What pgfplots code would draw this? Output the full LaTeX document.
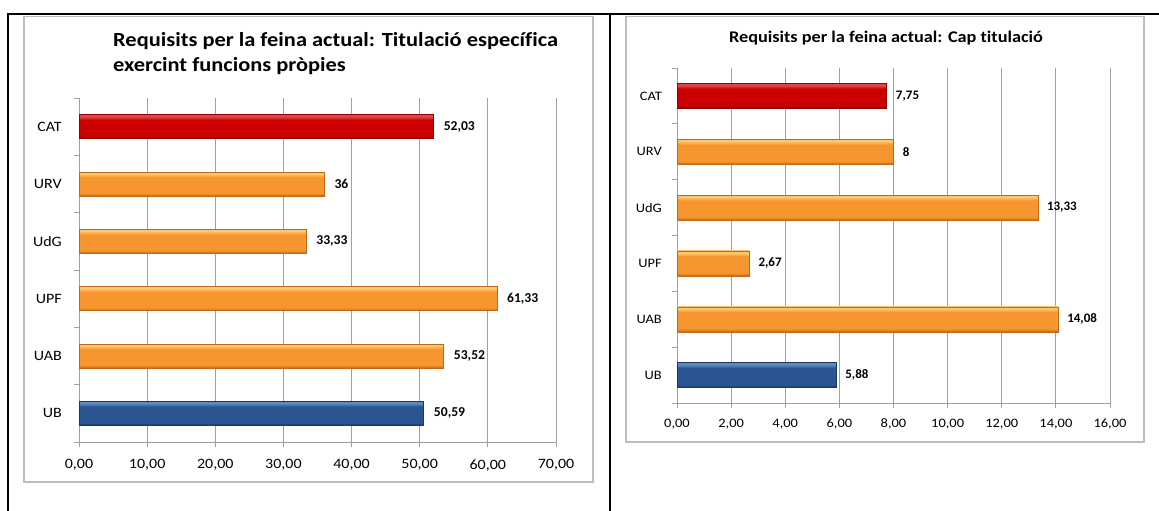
\documentclass[border=0pt]{standalone}
\usepackage{pgfplots}
\pgfplotsset{compat=1.18}
\usepackage{fontspec}
\setmainfont{Carlito}[FakeStretch=1.12, Ligatures=NoCommon]
\newfontfamily\plainfont{Carlito}

\definecolor{ordark}{HTML}{C0671A}
\definecolor{ormid}{HTML}{F7952E}
\definecolor{orlight}{HTML}{FCC76E}
\definecolor{rddark}{HTML}{940000}
\definecolor{rdmid}{HTML}{CC0000}
\definecolor{rdlight}{HTML}{E04545}
\definecolor{bldark}{HTML}{1A3861}
\definecolor{blmid}{HTML}{2B5592}
\definecolor{bllight}{HTML}{6189C0}
\definecolor{gridgray}{HTML}{A0A0A0}
\definecolor{boxgray}{HTML}{BDBDBD}

% bevel-like bar shadings (path spans 25bp..75bp)
\pgfdeclareverticalshading{orbar}{100bp}{color(0bp)=(ordark); color(25bp)=(ordark); color(31bp)=(ormid); color(64bp)=(ormid); color(71bp)=(orlight); color(75bp)=(orlight); color(100bp)=(orlight)}
\pgfdeclareverticalshading{rdbar}{100bp}{color(0bp)=(rddark); color(25bp)=(rddark); color(31bp)=(rdmid); color(64bp)=(rdmid); color(71bp)=(rdlight); color(75bp)=(rdlight); color(100bp)=(rdlight)}
\pgfdeclareverticalshading{blbar}{100bp}{color(0bp)=(bldark); color(25bp)=(bldark); color(31bp)=(blmid); color(64bp)=(blmid); color(71bp)=(bllight); color(75bp)=(bllight); color(100bp)=(bllight)}

\pgfplotsset{
  hbars/.style={
    scale only axis, xbar, xmin=0,
    ymin=-0.5, ymax=5.5,
    ytick={0,...,5}, yticklabels={UB,UAB,UPF,UdG,URV,CAT},
    minor ytick={-0.5,0.5,...,5.5},
    axis x line*=bottom, axis y line*=left,
    axis line style={gridgray, line width=1pt, -},
    xmajorgrids, major grid style={gridgray, line width=1pt},
    tick align=outside, major tick length=5pt, minor tick length=5pt,
    major y tick style={draw=none},
    every tick/.style={gridgray, line width=1pt},
    minor y tick style={gridgray, line width=1pt},
    /pgf/number format/.cd, fixed, fixed zerofill, precision=2, use comma, 1000 sep={}, assume math mode=true,
    /pgfplots/.cd,
    point meta=explicit symbolic, nodes near coords,
    every node near coord/.append style={anchor=west, inner sep=0pt, xshift=10pt, text=black},
    yticklabel style={anchor=east, inner sep=0pt},
    xticklabel style={anchor=north, inner sep=0pt},
  },
}
% one bar per plot, so that each bar gets its own shading
\newcommand{\onebar}[3]{\addplot[xbar, bar width=#1, bar shift=0pt, draw=#2dark, line width=0.5pt, shade, shading=#2bar] coordinates {#3};}

\begin{document}
\begin{tikzpicture}
\useasboundingbox (0,0) rectangle (1159pt,-511pt);
\fill[white] (0,0) rectangle (1159pt,-511pt);
\begin{scope}[x=1pt,y=-1pt]
  \draw[line width=2.8pt] (8,511) -- (8,14) -- (1159,14);
  \draw[line width=2.8pt] (610,14) -- (610,511);
  \draw[boxgray, line width=1.3pt] (24,16.5) rectangle (593,482);
  \draw[boxgray, line width=1.3pt] (626,16.5) rectangle (1144,442);
  \node[anchor=base west, inner sep=0pt, font=\bfseries\fontsize{20}{24}\selectfont] at (113,47) {Requisits per la feina actual: Titulació específica};
  \node[anchor=base west, inner sep=0pt, font=\bfseries\fontsize{20}{24}\selectfont] at (113,72) {exercint funcions pròpies};
  \node[anchor=base, inner sep=0pt, font=\bfseries\fontsize{16.3}{20}\selectfont] at (886,43) {Requisits per la feina actual: Cap titulació};
\end{scope}

% left chart
\begin{axis}[hbars, at={(79pt,-442pt)}, anchor=south west,
  width=477pt, height=344pt, xmax=70, xtick={0,10,...,70},
  ticklabel style={font=\fontsize{14.3}{17}\selectfont},
  every node near coord/.append style={font=\plainfont\bfseries\fontsize{13.6}{16}\selectfont},
  yticklabel style={xshift=-12pt}, xticklabel style={yshift=-12.5pt}]
\onebar{24pt}{rd}{(52.03,5) [52,03]}
\onebar{24pt}{or}{(36,4) [36]}
\onebar{24pt}{or}{(33.33,3) [33,33]}
\onebar{24pt}{or}{(61.33,2) [61,33]}
\onebar{24pt}{or}{(53.52,1) [53,52]}
\onebar{24pt}{bl}{(50.59,0) [50,59]}
\end{axis}

% right chart
\begin{axis}[hbars, at={(677pt,-403pt)}, anchor=south west,
  width=433pt, height=335pt, xmax=16, xtick={0,2,...,16},
  ticklabel style={font=\fontsize{12.9}{16}\selectfont},
  every node near coord/.append style={font=\plainfont\bfseries\fontsize{13}{15}\selectfont, xshift=-1pt},
  yticklabel style={xshift=-10pt}, xticklabel style={yshift=-10.5pt}]
\onebar{25pt}{rd}{(7.75,5) [7,75]}
\onebar{25pt}{or}{(8,4) [8]}
\onebar{25pt}{or}{(13.33,3) [13,33]}
\onebar{25pt}{or}{(2.67,2) [2,67]}
\onebar{25pt}{or}{(14.08,1) [14,08]}
\onebar{25pt}{bl}{(5.88,0) [5,88]}
\end{axis}
\end{tikzpicture}
\end{document}
